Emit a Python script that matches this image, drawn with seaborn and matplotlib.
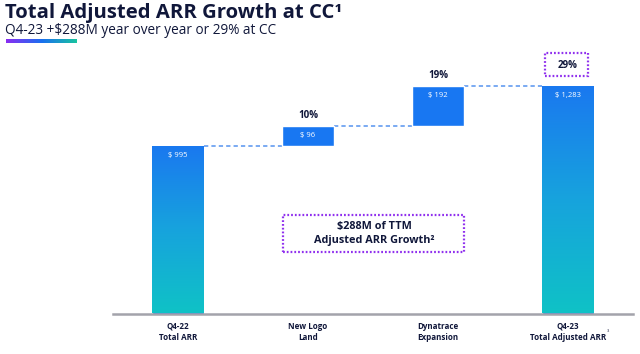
import matplotlib
matplotlib.use("Agg")
import matplotlib.pyplot as plt
import seaborn as sns
import numpy as np
import pandas as pd
from matplotlib.colors import LinearSegmentedColormap
from matplotlib.patches import FancyBboxPatch

# datos del grafico
categories = ["Q4-22\nTotal ARR", "New Logo\nLand", "Dynatrace\nExpansion", "Q4-23\nTotal Adjusted ARR"]
values = [995, 96, 192, 1283]
is_total = [True, False, False, True]
value_labels = ["$ 995", "$ 96", "$ 192", "$ 1,283"]
pct_labels = ["", "10%", "19%", "29%"]

bases = []
running = 0
for v, t in zip(values, is_total):
    if t:
        bases.append(0)
        running = v
    else:
        bases.append(running)
        running += v
tops = [b + v for b, v in zip(bases, values)]

df = pd.DataFrame({"cat": categories, "value": values, "base": bases, "total": is_total})

W, H = 640, 354
navy = "#10173a"
blue = "#1877f2"
purple = "#9030ee"

sns.set_style("white")
plt.rcParams["font.family"] = ["Open Sans", "DejaVu Sans"]

fig = plt.figure(figsize=(6.4, 3.54), dpi=100)

def fx(px):
    return px / W

def fy(py):
    return 1 - py / H

# ejes: linea base en y=313.5 px, desde x=113 hasta x=633
ax = fig.add_axes([fx(113), fy(313.5), (633 - 113) / W, (313.5 - 40) / H])
y0 = 193
scale = 0.2083  # px por unidad
ax.set_xlim(-0.5, 3.5)
ax.set_ylim(y0, y0 + (313.5 - 40) / scale)

# barras totales con seaborn
tot = df[df["total"]]
sns.barplot(data=tot, x="cat", y="value", order=categories, color=blue,
            width=0.4, ax=ax, saturation=1)
# barras flotantes
flt = df[~df["total"]]
pos = [categories.index(c) for c in flt["cat"]]
ax.bar(pos, flt["value"], bottom=flt["base"], width=0.4, color=blue, zorder=2)

# degradado en las barras totales
cmap = LinearSegmentedColormap.from_list("g", ["#0fc2c6", "#17a3dd", "#1a78f0"])
grad = np.linspace(0, 1, 256).reshape(-1, 1)
for p in list(ax.patches):
    if p.get_height() > 500:
        x0 = p.get_x()
        im = ax.imshow(grad, cmap=cmap, origin="lower", aspect="auto",
                       extent=[x0, x0 + p.get_width(), y0, p.get_y() + p.get_height()],
                       zorder=3)
        im.set_clip_path(p)
ax.set_xlim(-0.5, 3.5)
ax.set_ylim(y0, y0 + (313.5 - 40) / scale)

# lineas de conexion
for i in range(3):
    ax.plot([i + 0.2, i + 0.8], [tops[i], tops[i]], color="#7aaaf2",
            lw=1.4, ls=(0, (2.2, 1.6)), zorder=1)

# etiquetas de valores
for i, (t, lab) in enumerate(zip(tops, value_labels)):
    ax.annotate(lab, (i, t), xytext=(0, -6.7), textcoords="offset points",
                ha="center", va="center", color="white", fontsize=5.5, zorder=5)
for i, (t, lab) in enumerate(zip(tops, pct_labels)):
    if not lab:
        continue
    off = 15 if i == 3 else 8
    ax.annotate(lab, (i, t), xytext=(0, off), textcoords="offset points",
                ha="center", va="center", color=navy, fontsize=7,
                fontweight="bold", zorder=5)

sns.despine(ax=ax, left=True)
ax.spines["bottom"].set_color("#a3a3ab")
ax.spines["bottom"].set_linewidth(1.8)
ax.set_yticks([])
ax.set_xlabel("")
ax.set_ylabel("")
ax.tick_params(axis="x", length=0, pad=6)
ax.set_xticks(range(len(categories)))
ax.set_xticklabels(categories, fontsize=5.8, fontweight="bold", color=navy,
                   linespacing=1.25)
fig.text(fx(607), fy(331), "3", fontsize=3, color=navy, ha="left", va="center")

# caja punteada del 29%
fig.patches.append(FancyBboxPatch((fx(545), fy(76)), fx(43), 23 / H,
                                  boxstyle="square,pad=0", fill=False,
                                  ec=purple, lw=1.6, ls=(0, (0.8, 0.9)),
                                  transform=fig.transFigure, figure=fig))

# caja central
fig.patches.append(FancyBboxPatch((fx(283), fy(251.5)), fx(181), 36.5 / H,
                                  boxstyle="square,pad=0", fill=False,
                                  ec=purple, lw=1.6, ls=(0, (0.8, 0.9)),
                                  transform=fig.transFigure, figure=fig))
fig.text(fx(374), fy(233.5), "$288M of TTM\nAdjusted ARR Growth²", ha="center",
         va="center", fontsize=7.8, fontweight="bold", color=navy,
         linespacing=1.25)

# titulos
fig.text(fx(5), fy(18.3), "Total Adjusted ARR Growth at CC¹", ha="left", va="baseline",
         fontsize=14.6, fontweight="bold", color=navy)
fig.text(fx(5), fy(33.8), "Q4-23 +$288M year over year or 29% at CC", ha="left",
         va="baseline", fontsize=9.8, color=navy)

# subrayado en degradado
uax = fig.add_axes([fx(6), fy(42.7), fx(71), 3.4 / H])
ucmap = LinearSegmentedColormap.from_list("u", ["#8a2cf2", "#1a6ff0", "#18c4a0"])
uax.imshow(np.linspace(0, 1, 256).reshape(1, -1), cmap=ucmap, aspect="auto")
uax.axis("off")

fig.savefig("out.png", dpi=100)
